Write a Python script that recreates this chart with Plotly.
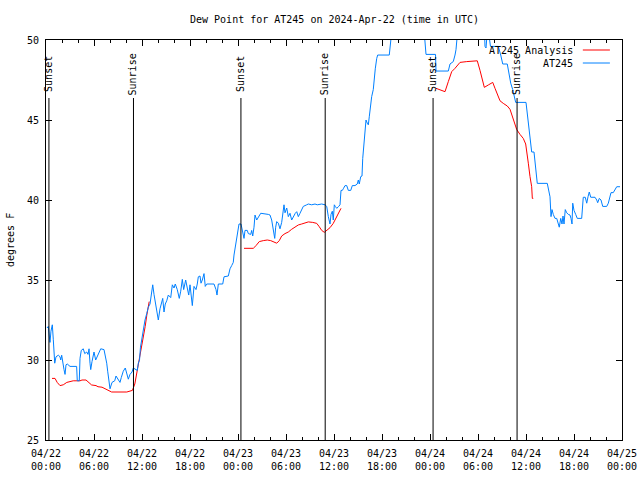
import pandas as pd
import plotly.graph_objects as go

# ---- data (hours since 2024-04-22 00:00 UTC, dew point in F) ----
START = "2024-04-22 00:00"

at245_obs = [
    (0.12, 32.0), (0.29, 32.1), (0.41, 31.5), (0.5, 31.1), (0.62, 31.8), (0.79, 32.2), (0.91, 31.3),
    (1.04, 30.3), (1.09, 29.8), (1.25, 30.2), (1.54, 30.3), (1.75, 30.2), (1.84, 30.0), (1.96, 30.3),
    (2.09, 29.8), (2.25, 29.4), (2.38, 29.1), (2.5, 29.7), (2.66, 29.75), (3.0, 29.6), (3.83, 29.6),
    (3.91, 28.7), (4.16, 28.7), (4.25, 30.1), (4.41, 30.6), (4.66, 30.7), (4.84, 30.4), (5.09, 30.5),
    (5.25, 30.35), (5.38, 30.7), (5.5, 29.8), (5.59, 29.4), (5.75, 29.9), (6.0, 30.5), (6.21, 30.0),
    (6.41, 30.25), (6.66, 30.5), (6.84, 30.7), (7.25, 30.65), (7.41, 30.3), (7.59, 29.8), (7.71, 29.3),
    (7.88, 28.6), (8.0, 28.2), (8.25, 28.6), (8.59, 28.7), (8.75, 29.0), (9.0, 28.8), (9.25, 28.6),
    (9.41, 28.9), (9.66, 29.3), (9.91, 29.5), (10.09, 29.1), (10.29, 28.8), (10.5, 29.1), (10.75, 29.25),
    (10.91, 29.5), (11.16, 29.4), (11.41, 29.35), (11.54, 29.8), (11.69, 30.0), (11.81, 30.8),
    (11.96, 31.25), (12.16, 31.9), (12.375, 32.5), (12.59, 32.9), (12.79, 33.3), (13.0, 33.5),
    (13.21, 34.3), (13.34, 34.7), (13.5, 34.1), (13.71, 33.5), (13.91, 33.0), (14.04, 32.5),
    (14.25, 33.2), (14.46, 33.6), (14.59, 33.85), (14.75, 33.0), (14.91, 33.5), (15.09, 33.7),
    (15.29, 34.06), (15.59, 33.9), (15.79, 34.7), (16.0, 34.5), (16.16, 34.75), (16.41, 34.4),
    (16.66, 33.85), (16.84, 34.3), (17.04, 35.04), (17.21, 34.4), (17.34, 34.75), (17.46, 35.0),
    (17.66, 34.5), (17.84, 34.06), (18.0, 34.7), (18.125, 33.9), (18.29, 33.4), (18.5, 34.6),
    (18.75, 34.4), (18.91, 34.75), (19.04, 35.2), (19.25, 35.25), (19.375, 34.8), (19.54, 35.0),
    (19.75, 35.4), (19.91, 34.6), (20.09, 34.75), (21.0, 34.75), (21.25, 34.4), (21.375, 34.06),
    (21.54, 34.75), (22.09, 34.75), (22.25, 35.2), (22.79, 35.25), (23.0, 35.7), (23.21, 35.9),
    (23.41, 36.1), (23.5, 36.56), (23.71, 37.2), (23.91, 37.9), (24.125, 38.5), (24.375, 38.5),
    (24.5, 38.2), (24.66, 37.9), (24.75, 37.6), (24.875, 38.1), (25.16, 38.1), (25.29, 37.9),
    (25.59, 37.85), (25.71, 38.1), (25.84, 37.75), (26.0, 38.3), (26.125, 39.06), (26.34, 38.75),
    (26.54, 38.95), (26.84, 39.17), (27.79, 39.1), (28.0, 39.06), (28.21, 38.75), (28.41, 38.0),
    (28.59, 37.6), (28.71, 38.3), (28.84, 38.65), (29.04, 38.55), (29.25, 38.2), (29.46, 38.6),
    (29.66, 39.27), (29.75, 39.7), (29.875, 39.2), (30.09, 39.5), (30.29, 38.96), (30.5, 39.17),
    (30.71, 38.75), (30.91, 38.96), (31.16, 39.17), (31.34, 39.27), (31.54, 38.96), (31.75, 39.17),
    (31.96, 39.4), (32.16, 39.6), (32.59, 39.7), (32.79, 39.75), (33.21, 39.7), (33.625, 39.75),
    (33.91, 39.7), (34.46, 39.75), (34.875, 39.7), (35.09, 39.6), (35.29, 38.96), (35.5, 38.5),
    (35.625, 39.1), (35.79, 39.3), (35.91, 38.75), (36.04, 39.7), (36.16, 39.6), (36.34, 39.48),
    (36.59, 39.6), (36.75, 39.7), (36.875, 40.6), (37.04, 40.6), (37.16, 40.7), (37.375, 40.9),
    (37.59, 40.9), (37.79, 40.6), (38.09, 40.6), (38.29, 40.9), (38.625, 40.9), (38.91, 41.0),
    (39.04, 41.25), (39.16, 41.0), (39.34, 41.46), (39.5, 41.5), (39.59, 42.6), (39.75, 43.75),
    (39.875, 44.1), (40.0, 45.0), (40.16, 44.8), (40.29, 44.7), (40.41, 45.2), (40.5, 45.73),
    (40.71, 46.46), (40.91, 46.9), (41.04, 47.9), (41.16, 48.2), (41.34, 48.85), (41.46, 49.06),
    (42.91, 49.06), (43.09, 49.8), (43.21, 50.5), (44.25, 51.0), (45.5, 51.2), (47.1, 51.0),
    (47.31, 50.3), (47.5, 49.1), (48.69, 49.1), (48.75, 48.06), (50.29, 48.06), (50.5, 48.5),
    (50.91, 48.65), (51.125, 49.06), (51.25, 49.4), (51.41, 50.3), (52.375, 51.0), (53.625, 51.2),
    (54.81, 50.5), (54.875, 49.6), (55.0, 49.5), (55.125, 50.3), (55.375, 50.3), (55.56, 49.6),
    (55.71, 49.6), (56.54, 49.6), (56.84, 49.06), (57.09, 48.5), (57.66, 48.5), (57.79, 48.1),
    (57.91, 47.6), (58.09, 47.3), (58.34, 46.9), (58.54, 46.5), (58.71, 46.1), (60.0, 46.1),
    (60.16, 45.4), (60.29, 45.0), (60.41, 44.6), (60.59, 43.5), (60.71, 43.0), (61.0, 43.0),
    (61.125, 42.3), (61.25, 41.77), (61.41, 41.04), (62.66, 41.04), (62.84, 40.67), (63.0, 40.2),
    (63.125, 38.96), (63.25, 39.4), (63.41, 39.1), (63.5, 38.96), (63.625, 38.85), (63.84, 38.85),
    (63.96, 38.65), (64.16, 38.3), (64.34, 38.85), (64.5, 38.5), (64.625, 39.0), (64.75, 38.5),
    (64.91, 39.4), (65.09, 39.2), (65.29, 39.1), (65.5, 39.06), (65.625, 38.85), (65.75, 38.5),
    (65.84, 39.8), (66.0, 39.35), (66.21, 39.1), (66.41, 38.85), (66.96, 38.85), (67.09, 39.8),
    (67.16, 40.17), (67.41, 40.17), (67.59, 39.8), (67.75, 40.2), (67.91, 40.5), (68.09, 40.17),
    (68.625, 40.17), (68.84, 40.0), (68.96, 39.83), (69.16, 40.1), (69.375, 40.0), (69.59, 39.6),
    (70.09, 39.6), (70.29, 39.8), (70.41, 40.1), (70.625, 40.46), (70.91, 40.46), (71.125, 40.65),
    (71.34, 40.83), (71.75, 40.83),
]

analysis_seg1 = [
    (0.75, 28.85), (1.125, 28.85), (1.4, 28.6), (1.75, 28.4), (2.16, 28.45), (2.6, 28.6), (3.0, 28.65),
    (3.4, 28.7), (4.25, 28.7), (4.5, 28.75), (5.0, 28.75), (5.3, 28.6), (5.7, 28.44), (6.25, 28.4),
    (6.5, 28.33), (7.0, 28.3), (7.4, 28.2), (7.8, 28.1), (8.2, 28.0), (10.1, 28.0), (10.8, 28.1),
    (11.1, 28.5), (11.3, 29.06), (11.6, 29.7), (11.75, 30.2), (11.96, 30.7), (12.16, 31.45),
    (12.4, 32.1), (12.6, 32.8), (12.8, 33.6), (12.9, 33.65),
]
analysis_seg2 = [
    (24.75, 36.98), (25.91, 36.98), (26.25, 37.15), (26.66, 37.4), (27.16, 37.46), (27.66, 37.5),
    (28.09, 37.46), (28.41, 37.4), (28.84, 37.3), (29.16, 37.46), (29.46, 37.75), (29.875, 37.9),
    (30.29, 38.0), (30.71, 38.17), (31.125, 38.3), (31.54, 38.44), (31.96, 38.5), (32.375, 38.58),
    (32.79, 38.63), (33.34, 38.6), (33.84, 38.54), (34.16, 38.33), (34.46, 38.1), (34.79, 37.98),
    (35.09, 38.1), (35.5, 38.27), (35.91, 38.54), (36.25, 38.85), (36.54, 39.2), (36.875, 39.48),
]
analysis_seg3 = [
    (48.75, 46.98), (49.34, 46.875), (49.875, 46.77), (50.29, 47.4), (50.71, 48.02), (51.125, 48.23),
    (51.75, 48.6), (52.59, 48.65), (53.41, 48.69), (53.91, 48.7), (54.25, 48.1), (54.46, 47.6),
    (54.79, 47.04), (55.29, 47.19), (55.84, 47.35), (56.125, 46.98), (56.41, 46.6), (56.75, 46.2),
    (57.16, 46.04), (57.66, 45.875), (58.0, 45.67), (58.34, 45.1), (58.625, 44.7), (58.84, 44.4),
    (59.25, 44.1), (59.66, 43.85), (59.96, 43.5), (60.09, 42.9), (60.29, 42.3), (60.5, 41.46),
    (60.71, 40.83), (60.79, 40.1), (60.91, 40.1),
]

sun_event_times = ["2024-04-22 00:22", "2024-04-22 10:56", "2024-04-23 00:22",
                   "2024-04-23 10:54", "2024-04-24 00:23", "2024-04-24 10:53"]
sun_event_labels = ["Sunset", "Sunrise", "Sunset", "Sunrise", "Sunset", "Sunrise"]

series_names = ["AT245 Analysis", "AT245"]
series_colors = ["#ff0000", "#0080ff"]

title_text = "Dew Point for AT245 on 2024-Apr-22 (time in UTC)"
y_label = "degrees F"

# ---- build ----
base = pd.Timestamp(START)


def to_time(hours):
    return [base + pd.to_timedelta(h, unit="h") for h in hours]


obs_t = to_time([p[0] for p in at245_obs])
obs_v = [p[1] for p in at245_obs]

an_t, an_v = [], []
for seg in (analysis_seg1, analysis_seg2, analysis_seg3):
    an_t += to_time([p[0] for p in seg]) + [None]
    an_v += [p[1] for p in seg] + [None]

FONT = "DejaVu Sans Mono"

fig = go.Figure()
fig.add_trace(go.Scatter(x=an_t, y=an_v, mode="lines", name=series_names[0],
                         line=dict(color=series_colors[0], width=1), connectgaps=False))
fig.add_trace(go.Scatter(x=obs_t, y=obs_v, mode="lines", name=series_names[1],
                         line=dict(color=series_colors[1], width=1)))

shapes = []
annotations = []
for t, lab in zip(sun_event_times, sun_event_labels):
    shapes.append(dict(type="line", xref="x", yref="paper", x0=t, x1=t, y0=0, y1=0.855,
                       line=dict(color="black", width=1)))
    annotations.append(dict(x=t, y=0.915, xref="x", yref="paper", text=lab, textangle=-90,
                            showarrow=False, xanchor="center", yanchor="middle",
                            font=dict(family=FONT, size=10, color="black")))

# manual gnuplot-style key (text then sample)
key_y = [0.975, 0.9425]
for name, col, ky in zip(series_names, series_colors, key_y):
    annotations.append(dict(x=0.919, y=ky, xref="paper", yref="paper", text=name,
                            showarrow=False, xanchor="right", yanchor="middle",
                            font=dict(family=FONT, size=10, color="black")))
    shapes.append(dict(type="line", xref="paper", yref="paper", x0=0.932, x1=0.979,
                       y0=ky, y1=ky, line=dict(color=col, width=1)))

annotations.append(dict(x=0.5, y=1.05, xref="paper", yref="paper", text=title_text,
                        showarrow=False, xanchor="center", yanchor="middle",
                        font=dict(family=FONT, size=10, color="black")))
annotations.append(dict(x=-0.0625, y=0.5, xref="paper", yref="paper", text=y_label,
                        textangle=-90, showarrow=False, xanchor="center", yanchor="middle",
                        font=dict(family=FONT, size=10, color="black")))

fig.update_layout(
    width=640, height=480, autosize=False,
    margin=dict(l=46, r=18, t=40, b=40),
    paper_bgcolor="white", plot_bgcolor="white",
    showlegend=False,
    shapes=shapes, annotations=annotations,
    font=dict(family=FONT, size=10, color="black"),
)
fig.update_xaxes(
    type="date", range=["2024-04-22 00:00", "2024-04-25 00:00"],
    dtick=6 * 3600 * 1000, tick0="2024-04-22 00:00", tickformat="%m/%d<br>%H:%M",
    ticks="inside", ticklen=6, tickcolor="black", tickwidth=1, ticklabelstandoff=4,
    minor=dict(dtick=2 * 3600 * 1000, tick0="2024-04-22 00:00", ticks="inside", ticklen=3,
               tickcolor="black", showgrid=False),
    showline=True, linecolor="black", linewidth=1, mirror="allticks",
    showgrid=False, zeroline=False, automargin=False,
    tickfont=dict(family=FONT, size=10, color="black"),
)
fig.update_yaxes(
    range=[25, 50], dtick=5, tick0=25,
    ticks="inside", ticklen=6, tickcolor="black", tickwidth=1, ticklabelstandoff=4,
    showline=True, linecolor="black", linewidth=1, mirror="allticks",
    showgrid=False, zeroline=False, automargin=False,
    tickfont=dict(family=FONT, size=10, color="black"),
)

# remove the page's default 8px body margin so the 640x480 figure fills the window
fig.write_html("out.html", config={"displayModeBar": False},
               post_script="document.body.style.margin='0px';")
